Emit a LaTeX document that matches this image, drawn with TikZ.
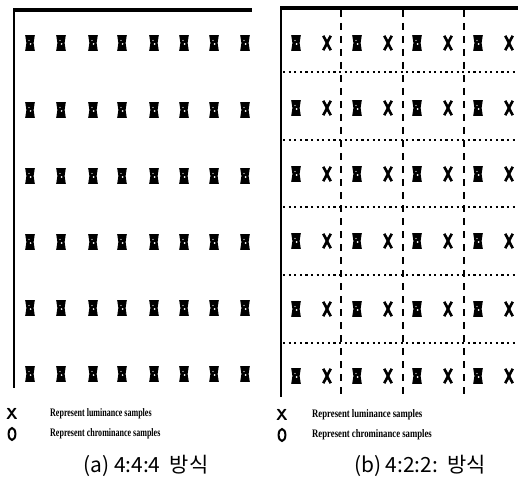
\documentclass[tikz,border=0pt]{standalone}
\usepackage{fontspec}
\newfontfamily\kr{Noto Sans CJK KR}
\newfontfamily\legendfont{Liberation Serif}
\tikzset{
  frame/.style={line width=2.2bp},
  topframe/.style={line width=3.6bp},
  dashline/.style={line width=1.7bp, dash pattern=on 7bp off 6bp},
  dotline/.style={line width=2.6bp, dash pattern=on 2.2bp off 3.4bp},
  pics/chroma/.style={code={
    \fill (-4.8,-7.8) -- (4.8,-7.8) -- (3.6,0) -- (4.8,7.8) -- (-4.8,7.8) -- (-3.6,0) -- cycle;
    \fill[white] (0.6,1) circle (0.9);
    \fill[white] (-1,-2.5) circle (0.6);
  }},
  pics/lumax/.style={code={
    \draw[line width=2.6bp] (-3.8,-7.2) .. controls (0,-1) and (0,1) .. (3.8,7.2);
    \draw[line width=2.6bp] (3.8,-7.2) .. controls (0,-1) and (0,1) .. (-3.8,7.2);
  }},
  legtext/.style={anchor=west, inner sep=0pt, font=\legendfont\bfseries\fontsize{11.5}{12}\selectfont},
  captext/.style={anchor=center, inner sep=0pt, font=\kr\fontsize{21}{24}\selectfont},
}
\begin{document}
\begin{tikzpicture}[x=1bp,y=-1bp]
\useasboundingbox[fill=white] (0,0) rectangle (518,486);
% ---------- panel (a) ----------
\draw[frame] (14,9) -- (14,388);
\draw[topframe] (13,10) -- (252,10);
\foreach \yy in {43,110,176,242,308,374}{
  \foreach \xx in {30,61,93,122,154,184,214,245}{
    \pic at (\xx,\yy) {chroma};
  }
}
% legend (a)
\node[inner sep=0pt] (ax) at (12,414) {\sffamily\bfseries\fontsize{16}{16}\selectfont X};
\draw[line width=2bp] (12,434) ellipse (3.4 and 6);
\node[legtext] (al) at (50,414) {\scalebox{0.7}[1]{Represent luminance samples}};
\node[legtext] (ac) at (50,434) {\scalebox{0.7}[1]{Represent chrominance samples}};
\node[captext] (acap) at (146,466) {(a) 4:4:4~~방식};
% ---------- panel (b) ----------
\draw[frame] (281,7) -- (281,397);
\draw[topframe] (280,8) -- (518,8);
\foreach \xx in {341,403,464}{
  \draw[dashline] (\xx,10) -- (\xx,396);
}
\foreach \yy in {72,140,207,275,343}{
  \draw[dotline] (283,\yy) -- (518,\yy);
}
\foreach \yy in {43,108,174,241,309,376}{
  \foreach \xx in {296,357,417,478}{
    \pic at (\xx,\yy) {chroma};
  }
  \foreach \xx in {327,388,448,509}{
    \pic at (\xx,\yy) {lumax};
  }
}
% legend (b)
\node[inner sep=0pt] (bx) at (282,415) {\sffamily\bfseries\fontsize{16}{16}\selectfont X};
\draw[line width=2bp] (282,435) ellipse (3.4 and 6);
\node[legtext] (bl) at (312,415) {\scalebox{0.76}[1]{Represent luminance samples}};
\node[legtext] (bc) at (312,435) {\scalebox{0.76}[1]{Represent chrominance samples}};
\node[captext] (bcap) at (420,466) {(b) 4:2:2:~~방식};
\end{tikzpicture}
\end{document}
